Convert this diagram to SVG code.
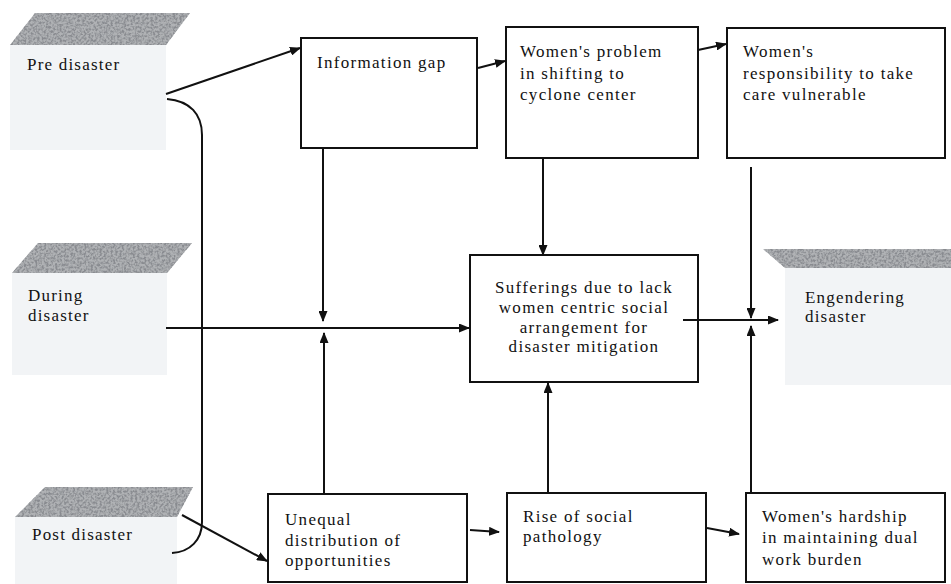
<svg xmlns="http://www.w3.org/2000/svg" width="951" height="584" viewBox="0 0 951 584">
<style>
.bg{fill:#ffffff}
.box{fill:#ffffff;stroke:#111;stroke-width:2}
.lbl{font-family:"Liberation Serif","Times New Roman",serif;font-size:17px;fill:#111;letter-spacing:1.3px}
.stage{font-family:"Liberation Serif","Times New Roman",serif;font-size:17px;fill:#111;letter-spacing:1.2px}
.speck{fill:#b0b2b5;filter:url(#speck)}
.pale{fill:#f2f4f6}
.con{fill:none;stroke:#111;stroke-width:2;marker-end:url(#ah)}
.plain{fill:none;stroke:#111;stroke-width:2}
</style>
<defs>
<marker id="ah" markerUnits="userSpaceOnUse" markerWidth="11" markerHeight="9" refX="10" refY="4.5" orient="auto">
<path d="M0,0 L11,4.5 L0,9 z" fill="#111"/>
</marker>
<filter id="speck" x="0" y="0" width="1" height="1">
<feTurbulence type="fractalNoise" baseFrequency="0.45" numOctaves="2" seed="7" result="n"/>
<feColorMatrix in="n" type="matrix" values="0 0 0 0 0.25  0 0 0 0 0.26  0 0 0 0 0.28  0 0 0 -3 1.9" result="d"/>
<feComposite in="d" in2="SourceGraphic" operator="in" result="dm"/>
<feMerge><feMergeNode in="SourceGraphic"/><feMergeNode in="dm"/></feMerge>
</filter>
</defs>
<rect class="bg" x="0" y="0" width="951" height="584"/>

<g id="pre-disaster">
<rect class="pale" x="10" y="45" width="156" height="105"/>
<polygon class="speck" points="10,45 35,13 190,13 166,45"/>
<text class="stage" x="27" y="70">Pre disaster</text>
</g>

<g id="during-disaster">
<rect class="pale" x="12" y="273" width="155" height="102"/>
<polygon class="speck" points="12,273 38,243 192,243 167,273"/>
<text class="stage" x="28" y="301">During</text>
<text class="stage" x="28" y="321">disaster</text>
</g>

<g id="post-disaster">
<rect class="pale" x="15" y="517" width="162" height="67"/>
<polygon class="speck" points="15,517 45,487 193,487 177,517"/>
<text class="stage" x="32" y="540">Post disaster</text>
</g>

<g id="engendering-disaster">
<rect class="pale" x="785" y="268" width="166" height="117"/>
<polygon class="speck" points="763,249 951,249 951,268 785,268"/>
<text class="stage" x="805" y="303">Engendering</text>
<text class="stage" x="805" y="322">disaster</text>
</g>

<g id="information-gap">
<rect class="box" x="301" y="38" width="176" height="110"/>
<text class="lbl" x="317" y="68">Information gap</text>
</g>

<g id="womens-problem">
<rect class="box" x="506" y="27" width="192" height="131"/>
<text class="lbl" x="520" y="57">Women's problem</text>
<text class="lbl" x="520" y="79">in shifting to</text>
<text class="lbl" x="520" y="100">cyclone center</text>
</g>

<g id="womens-responsibility">
<rect class="box" x="727" y="28" width="218" height="130"/>
<text class="lbl" x="743" y="57">Women's</text>
<text class="lbl" x="743" y="79">responsibility to take</text>
<text class="lbl" x="743" y="100">care vulnerable</text>
</g>

<g id="sufferings">
<rect class="box" x="470" y="255" width="228" height="127"/>
<text class="lbl" x="584" y="293" text-anchor="middle">Sufferings due to lack</text>
<text class="lbl" x="584" y="313" text-anchor="middle">women centric  social</text>
<text class="lbl" x="584" y="333" text-anchor="middle">arrangement for</text>
<text class="lbl" x="584" y="352" text-anchor="middle">disaster mitigation</text>
</g>

<g id="unequal-distribution">
<rect class="box" x="268" y="494" width="199" height="88"/>
<text class="lbl" x="285" y="525">Unequal</text>
<text class="lbl" x="285" y="546">distribution of</text>
<text class="lbl" x="285" y="566">opportunities</text>
</g>

<g id="social-pathology">
<rect class="box" x="507" y="493" width="199" height="89"/>
<text class="lbl" x="523" y="522">Rise of social</text>
<text class="lbl" x="523" y="542">pathology</text>
</g>

<g id="womens-hardship">
<rect class="box" x="746" y="493" width="199" height="89"/>
<text class="lbl" x="762" y="522">Women's hardship</text>
<text class="lbl" x="762" y="543">in maintaining dual</text>
<text class="lbl" x="762" y="565">work burden</text>
</g>

<g id="connectors">
<line class="con" x1="166" y1="94" x2="300" y2="48"/>
<path class="plain" d="M167,99 C190,101 202,114 202,135 L202,522 C202,540 190,552 172,553"/>
<line class="con" x1="182" y1="515" x2="267" y2="561"/>
<line class="con" x1="478" y1="68" x2="505" y2="61"/>
<line class="con" x1="698" y1="50" x2="726" y2="44"/>
<line class="con" x1="543" y1="158" x2="543" y2="255"/>
<line class="con" x1="323" y1="148" x2="323" y2="321"/>
<line class="con" x1="324" y1="494" x2="324" y2="333"/>
<line class="con" x1="166" y1="328" x2="469" y2="328"/>
<line class="con" x1="548" y1="493" x2="548" y2="383"/>
<line class="con" x1="683" y1="320" x2="778" y2="320"/>
<line class="con" x1="751" y1="167" x2="751" y2="318"/>
<line class="con" x1="751" y1="493" x2="751" y2="326"/>
<line class="con" x1="470" y1="530" x2="499" y2="532"/>
<line class="con" x1="707" y1="528" x2="739" y2="534"/>
</g>
</svg>
